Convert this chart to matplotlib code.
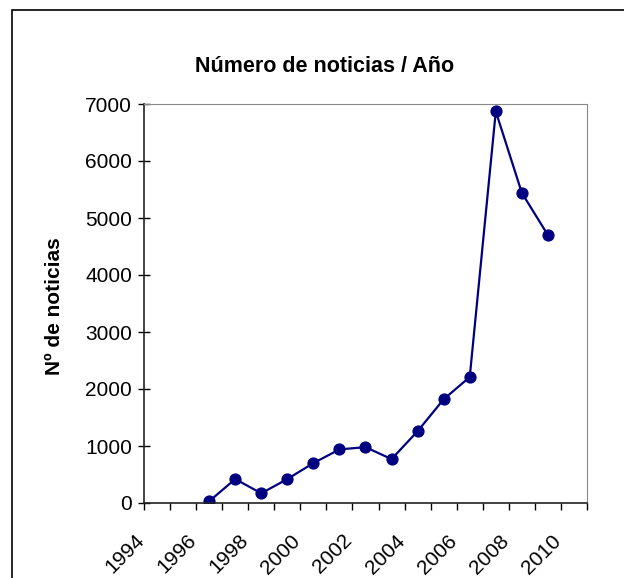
import numpy as np
import matplotlib
matplotlib.use("Agg")
from matplotlib import pyplot as plt
from matplotlib.patches import Rectangle
from matplotlib.transforms import ScaledTranslation

plt.rcParams['font.family'] = ['Liberation Sans', 'DejaVu Sans']

years = np.array([1997, 1998, 1999, 2000, 2001, 2002, 2003, 2004, 2005, 2006, 2007, 2008, 2009, 2010])
noticias = [30, 420, 170, 420, 700, 940, 980, 770, 1260, 1820, 2210, 6870, 5440, 4700]
tick_years = list(range(1994, 2011, 2))

fig = plt.figure(figsize=(6.24, 5.78), dpi=100)
ax = fig.add_axes([144/624, 75/578, 443/624, 399/578])

# points sit in the middle of each year band (Excel date axis)
ax.plot(years - 0.5, noticias, color='#000080', lw=1.6, marker='o', ms=7.8,
        markerfacecolor='#000080', markeredgecolor='#000080')

ax.set_xlim(1994, 2011)
ax.set_ylim(0, 7000)
ax.set_yticks(range(0, 7001, 1000))
ax.set_xticks(tick_years)
ax.set_xticks(range(1994, 2012), minor=True)
ax.set_xticklabels([str(y) for y in tick_years], rotation=45,
                   ha='right', va='center', rotation_mode='anchor')
ax.tick_params(axis='y', direction='inout', length=9, width=1, labelsize=15, pad=4)
ax.tick_params(axis='x', which='both', direction='out', length=5, width=1, labelsize=15, pad=20)
shift = ScaledTranslation(-3/100, 0, fig.dpi_scale_trans)
for lbl in ax.get_xticklabels():
    lbl.set_transform(lbl.get_transform() + shift)

for s in ['top', 'right']:
    ax.spines[s].set_color('#888888')
for s in ['left', 'bottom']:
    ax.spines[s].set_color('#222222')
    ax.spines[s].set_linewidth(1.2)

fig.text(55/624, 1 - 306/578, 'Nº de noticias', fontsize=15, fontweight='bold',
         rotation=90, ha='center', va='center')
fig.text(325/624, 1 - 66/578, 'Número de noticias / Año', fontsize=15.5,
         fontweight='bold', ha='center', va='center')

# outer chart border (cut off at right and bottom)
fig.patches.append(Rectangle((12/624, -0.1), 1.2, 1.1 - 10/578, transform=fig.transFigure,
                             fill=False, edgecolor='black', lw=1.2))

fig.savefig('out.png', dpi=100)
